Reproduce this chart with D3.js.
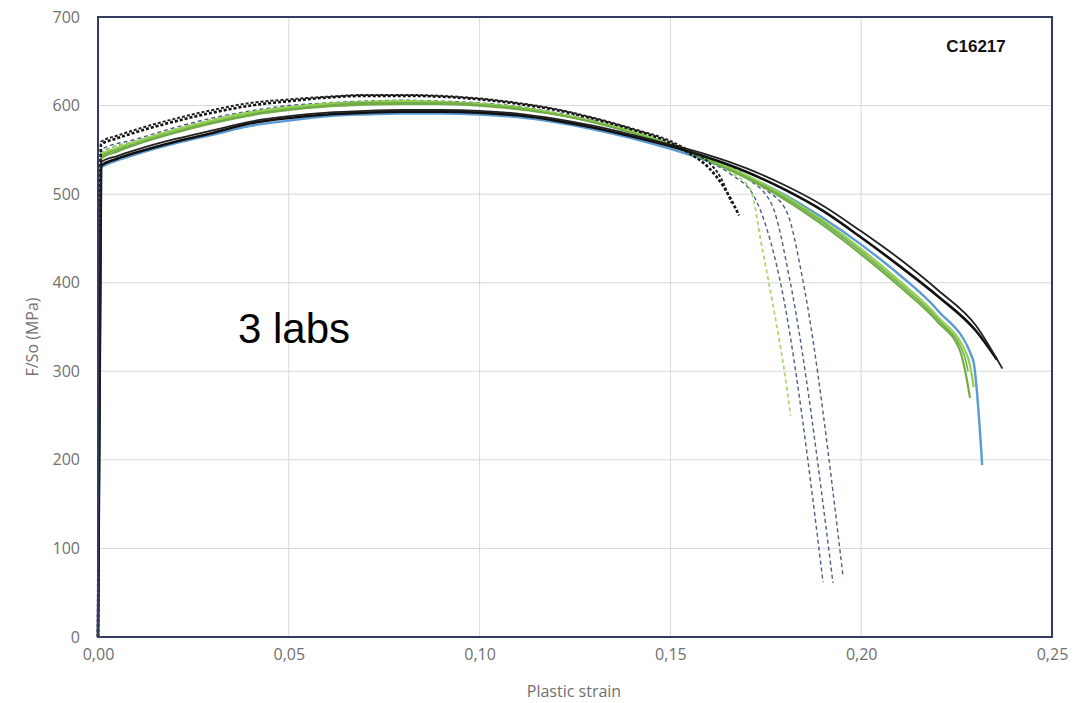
<!DOCTYPE html>
<html>
<head>
<meta charset="utf-8">
<script src="https://cdn.jsdelivr.net/npm/d3@7"></script>
<style>
  body { margin: 0; background: #fff; }
  svg text { font-family: "Liberation Sans", Arial, sans-serif; }
</style>
</head>
<body>
<svg id="chart" width="1089" height="703"></svg>
<script>
// tick values
var xTicks = [0, 0.05, 0.10, 0.15, 0.20, 0.25];
var yTicks = [0, 100, 200, 300, 400, 500, 600, 700];

// curves: [plastic strain, F/So MPa]
var blackSolidA = [[0,0],[0.0008,532],[0.005,540],[0.01,547],[0.02,559],[0.03,569],[0.04,580],[0.05,586],[0.06,590],[0.07,592],[0.08,593],[0.09,593],[0.10,592],[0.11,589],[0.12,583],[0.13,575],[0.14,565],[0.15,554],[0.16,541],[0.17,525],[0.18,505],[0.19,481],[0.20,451],[0.21,419],[0.22,385],[0.23,346],[0.2356,313]];
var blackSolidB = [[0,0],[0.0008,536],[0.005,543],[0.01,550],[0.02,562],[0.03,572],[0.04,582],[0.05,588],[0.06,592],[0.07,594],[0.08,595],[0.09,595],[0.10,594],[0.11,591],[0.12,585],[0.13,577],[0.14,567],[0.15,556],[0.16,544],[0.17,529],[0.18,510],[0.19,487],[0.20,458],[0.21,427],[0.22,392],[0.23,352],[0.237,303]];
var blackDotA = [[0,0],[0.0008,556],[0.005,563],[0.01,570],[0.02,582],[0.03,592],[0.04,600],[0.05,605],[0.06,609],[0.07,611],[0.08,611],[0.09,610],[0.10,607],[0.11,602],[0.12,595],[0.13,585],[0.14,573],[0.15,558],[0.155,546],[0.16,530],[0.164,508],[0.168,476]];
var blackDotB = [[0,0],[0.0008,559],[0.005,566],[0.01,573],[0.02,585],[0.03,595],[0.04,603],[0.05,607],[0.06,610],[0.07,612],[0.08,612],[0.09,611],[0.10,608],[0.11,603],[0.12,596],[0.13,586],[0.14,574],[0.15,560],[0.155,549],[0.16,536],[0.163,520],[0.166,490]];
var greenSolidA = [[0,0],[0.0008,540],[0.005,548],[0.01,556],[0.02,569],[0.03,580],[0.04,589],[0.05,595],[0.06,599],[0.07,601],[0.08,602],[0.09,602],[0.10,600],[0.11,596],[0.12,590],[0.13,581],[0.14,570],[0.15,555],[0.16,538],[0.17,518],[0.18,494],[0.19,465],[0.20,432],[0.21,396],[0.22,356],[0.226,322],[0.2275,295],[0.2285,270]];
var greenSolidB = [[0,0],[0.0008,544],[0.005,552],[0.01,559],[0.02,572],[0.03,583],[0.04,592],[0.05,598],[0.06,602],[0.07,604],[0.08,605],[0.09,604],[0.10,602],[0.11,598],[0.12,591],[0.13,582],[0.14,571],[0.15,557],[0.16,540],[0.17,521],[0.18,498],[0.19,470],[0.20,438],[0.21,402],[0.22,362],[0.228,315],[0.2295,282]];
var greenSolidC = [[0,0],[0.0008,542],[0.005,550],[0.01,557],[0.02,570],[0.03,581],[0.04,590],[0.05,596],[0.06,600],[0.07,603],[0.08,603],[0.09,603],[0.10,601],[0.11,597],[0.12,590],[0.13,581],[0.14,569],[0.15,555],[0.16,538],[0.17,519],[0.18,496],[0.19,468],[0.20,435],[0.21,399],[0.22,359],[0.227,318],[0.228,300]];
var blueSolid = [[0,0],[0.0008,530],[0.005,538],[0.01,545],[0.02,557],[0.03,567],[0.04,577],[0.05,583],[0.06,588],[0.07,590],[0.08,591],[0.09,591],[0.10,590],[0.11,587],[0.12,581],[0.13,573],[0.14,563],[0.15,551],[0.16,537],[0.17,520],[0.18,499],[0.19,473],[0.20,443],[0.21,409],[0.22,369],[0.2293,313],[0.2317,194]];
var greenDash = [[0,0],[0.0008,546],[0.01,560],[0.02,573],[0.03,584],[0.04,593],[0.05,598],[0.06,602],[0.07,604],[0.08,605],[0.09,604],[0.10,602],[0.11,598],[0.12,591],[0.13,582],[0.14,570],[0.15,556],[0.16,538],[0.166,524],[0.171,505],[0.174,440],[0.177,372],[0.1795,310],[0.1815,250]];
var blueDashA = [[0,0],[0.0008,543],[0.01,557],[0.02,570],[0.03,581],[0.04,590],[0.05,596],[0.06,600],[0.07,602],[0.08,603],[0.09,603],[0.10,601],[0.11,597],[0.12,590],[0.13,581],[0.14,569],[0.15,555],[0.16,537],[0.166,522],[0.172,497],[0.1787,403],[0.190,62]];
var blueDashB = [[0,0],[0.0008,547],[0.01,560],[0.02,573],[0.03,584],[0.04,592],[0.05,598],[0.06,602],[0.07,604],[0.08,604],[0.09,604],[0.10,602],[0.11,598],[0.12,591],[0.13,582],[0.14,570],[0.15,556],[0.16,539],[0.17,518],[0.1766,488],[0.1813,403],[0.1926,61]];
var blueDashC = [[0,0],[0.0008,550],[0.01,562],[0.02,575],[0.03,586],[0.04,594],[0.05,600],[0.06,603],[0.07,605],[0.08,606],[0.09,605],[0.10,603],[0.11,599],[0.12,592],[0.13,583],[0.14,571],[0.15,557],[0.16,541],[0.17,521],[0.175,505],[0.1805,480],[0.1847,403],[0.1952,70]];

var series = [
  {d: blueDashA, c: "#4d5f80", w: 1.4, dash: "4,3"},
  {d: blueDashB, c: "#4d5f80", w: 1.4, dash: "4,3"},
  {d: blueDashC, c: "#4d5f80", w: 1.4, dash: "4,3"},
  {d: greenDash, c: "#a9d86e", w: 1.8, dash: "4,3"},
  {d: blueSolid, c: "#5b9bd5", w: 2.4},
  {d: greenSolidA, c: "#70ad47", w: 2.2},
  {d: greenSolidB, c: "#92d050", w: 2.2},
  {d: greenSolidC, c: "#70ad47", w: 1.6},
  {d: blackSolidA, c: "#111", w: 2.6},
  {d: blackSolidB, c: "#222", w: 1.8},
  {d: blackDotA, c: "#111", w: 2.6, dash: "3,2"},
  {d: blackDotB, c: "#222", w: 2, dash: "3,2"}
];

var svg = d3.select("#chart");
var m = {left: 98, right: 1052, top: 17, bottom: 637};

var x = d3.scaleLinear().domain([0, 0.25]).range([m.left, m.right]);
var y = d3.scaleLinear().domain([0, 700]).range([m.bottom, m.top]);
var fmt = function(v){ return d3.format(".2f")(v).replace(".", ","); };

// gridlines
svg.append("g").selectAll("line").data(yTicks.slice(1, -1)).enter().append("line")
  .attr("x1", m.left).attr("x2", m.right)
  .attr("y1", function(d){ return y(d); }).attr("y2", function(d){ return y(d); })
  .attr("stroke", "#d9d9d9").attr("stroke-width", 1);
svg.append("g").selectAll("line").data(xTicks.slice(1, -1)).enter().append("line")
  .attr("y1", m.top).attr("y2", m.bottom)
  .attr("x1", function(d){ return x(d); }).attr("x2", function(d){ return x(d); })
  .attr("stroke", "#d9d9d9").attr("stroke-width", 1);

// curves
var line = d3.line()
  .x(function(d){ return x(d[0]); })
  .y(function(d){ return y(d[1]); })
  .curve(d3.curveMonotoneX);

var plot = svg.append("g");
plot.selectAll("path").data(series).enter().append("path")
  .attr("d", function(s){ return line(s.d); })
  .attr("fill", "none")
  .attr("stroke", function(s){ return s.c; })
  .attr("stroke-width", function(s){ return s.w; })
  .attr("stroke-dasharray", function(s){ return s.dash || null; })
  .attr("stroke-linejoin", "round");

// frame
svg.append("rect")
  .attr("x", m.left).attr("y", m.top)
  .attr("width", m.right - m.left).attr("height", m.bottom - m.top)
  .attr("fill", "none").attr("stroke", "#343a63").attr("stroke-width", 2);

// axes (labels only, frame drawn above)
var yAxis = svg.append("g").attr("transform", "translate(" + (m.left - 18) + ",0)")
  .call(d3.axisLeft(y).tickValues(yTicks).tickSize(0).tickPadding(0));
var xAxis = svg.append("g").attr("transform", "translate(0," + (m.bottom + 12) + ")")
  .call(d3.axisBottom(x).tickValues(xTicks).tickFormat(fmt).tickSize(0).tickPadding(0));
[yAxis, xAxis].forEach(function(a){
  a.select(".domain").remove();
  a.selectAll("text").attr("fill", "#707070").style("font-size", "16px")
    .style("font-family", "'Open Sans', 'Liberation Sans', sans-serif");
});

svg.append("text").attr("x", 574).attr("y", 697)
  .attr("text-anchor", "middle").attr("fill", "#707070")
  .style("font-size", "16px").style("font-family", "'Open Sans', sans-serif")
  .text("Plastic strain");
svg.append("text")
  .attr("transform", "translate(38," + ((m.top + m.bottom) / 2 + 10) + ") rotate(-90)")
  .attr("text-anchor", "middle").attr("fill", "#707070")
  .style("font-size", "16px").style("font-family", "'Open Sans', sans-serif")
  .text("F/So (MPa)");

svg.append("text").attr("x", 976).attr("y", 52).attr("text-anchor", "middle")
  .attr("fill", "#111").style("font-size", "17px").style("font-weight", "bold")
  .text("C16217");

svg.append("text").attr("x", 238).attr("y", 343)
  .attr("fill", "#000").style("font-size", "42px")
  .text("3 labs");
</script>
</body>
</html>
